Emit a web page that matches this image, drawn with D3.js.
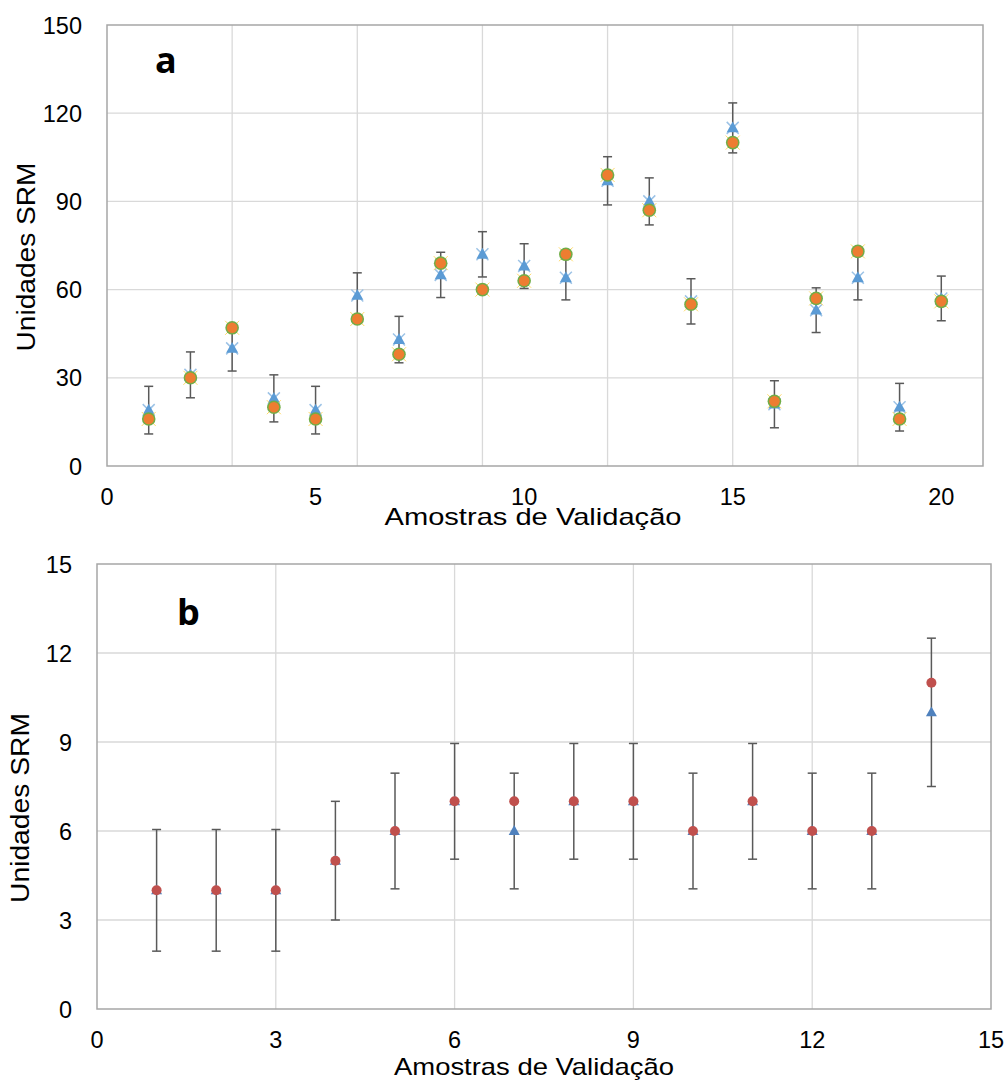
<!DOCTYPE html>
<html>
<head>
<meta charset="utf-8">
<script src="https://cdn.jsdelivr.net/npm/d3@7"></script>
<style>
  body { margin: 0; background: #fff; }
  text { font-family: "Liberation Sans", Arial, sans-serif; fill: #000; }
</style>
</head>
<body>
<svg id="chart" width="1008" height="1088"></svg>
<script>
// panel a data
const samplesA = d3.range(1, 21);
const triA = [19, 31, 40, 23, 19, 58, 43, 65, 72, 68, 64, 97, 90, 56, 115, 21, 53, 64, 20, 57];
const circA = [16, 30, 47, 20, 16, 50, 38, 69, 60, 63, 72, 99, 87, 55, 110, 22, 57, 73, 16, 56];
const errA = [8.1, 7.8, 7.7, 8, 8.1, 7.7, 7.9, 7.7, 7.7, 7.6, 7.5, 8.2, 8, 7.7, 8.5, 8, 7.6, 7.5, 8.1, 7.6];
const xTicksA = [0, 5, 10, 15, 20];
const xGridA = [3, 6, 9, 12, 15, 18];
const yTicksA = [0, 30, 60, 90, 120, 150];

// panel b data
const samplesB = d3.range(1, 15);
const triB = [4, 4, 4, 5, 6, 7, 6, 7, 7, 6, 7, 6, 6, 10];
const circB = [4, 4, 4, 5, 6, 7, 7, 7, 7, 6, 7, 6, 6, 11];
const errB = [2.05, 2.05, 2.05, 2, 1.95, 1.95, 1.95, 1.95, 1.95, 1.95, 1.95, 1.95, 1.95, 2.5];
const xTicksB = [0, 3, 6, 9, 12, 15];
const yTicksB = [0, 3, 6, 9, 12, 15];

const svg = d3.select("#chart");

function drawPanel(cfg) {
  const x = d3.scaleLinear().domain(cfg.xDomain).range([cfg.left, cfg.right]);
  const y = d3.scaleLinear().domain(cfg.yDomain).range([cfg.bottom, cfg.top]);
  const g = svg.append("g");

  // grid
  g.selectAll(".hgrid").data(cfg.yTicks.slice(1, -1)).join("line")
    .attr("x1", cfg.left).attr("x2", cfg.right)
    .attr("y1", d => y(d)).attr("y2", d => y(d))
    .attr("stroke", "#d9d9d9").attr("stroke-width", 1.3);
  g.selectAll(".vgrid").data(cfg.xGrid).join("line")
    .attr("x1", d => x(d)).attr("x2", d => x(d))
    .attr("y1", cfg.top).attr("y2", cfg.bottom)
    .attr("stroke", "#d9d9d9").attr("stroke-width", 1.3);

  // frame
  g.append("rect")
    .attr("x", cfg.left).attr("y", cfg.top)
    .attr("width", cfg.right - cfg.left).attr("height", cfg.bottom - cfg.top)
    .attr("fill", "none").attr("stroke", "#a6a6a6").attr("stroke-width", 1.5);

  // tick labels
  g.selectAll(".ylab").data(cfg.yTicks).join("text")
    .attr("x", cfg.left - 25).attr("y", d => y(d) + 8.5)
    .attr("text-anchor", "end").attr("font-size", 23.5)
    .text(d => d);
  g.selectAll(".xlab").data(cfg.xTicks).join("text")
    .attr("x", d => x(d)).attr("y", cfg.bottom + 39)
    .attr("text-anchor", "middle").attr("font-size", 23.5)
    .text(d => d);

  // axis titles (stretched like the original export)
  g.append("text")
    .attr("transform", `translate(${cfg.yTitleX},${cfg.yTitleY}) rotate(-90)`)
    .attr("text-anchor", "middle").attr("font-size", 25)
    .attr("textLength", cfg.yTitleLen).attr("lengthAdjust", "spacingAndGlyphs")
    .text("Unidades SRM");
  g.append("text")
    .attr("x", cfg.xTitleX).attr("y", cfg.xTitleY)
    .attr("text-anchor", "middle").attr("font-size", 24)
    .attr("textLength", cfg.xTitleLen).attr("lengthAdjust", "spacingAndGlyphs")
    .text("Amostras de Validação");

  // panel letter
  g.append("text")
    .attr("x", cfg.letterX).attr("y", cfg.letterY)
    .attr("font-weight", "bold").attr("font-size", 36)
    .style("font-family", "'Open Sans', sans-serif")
    .text(cfg.letter);

  // error bars
  const eb = g.selectAll(".eb").data(cfg.samples).join("g");
  eb.append("line")
    .attr("x1", (d) => x(d)).attr("x2", (d) => x(d))
    .attr("y1", (d, i) => y(cfg.tri[i] + cfg.err[i]))
    .attr("y2", (d, i) => y(cfg.tri[i] - cfg.err[i]))
    .attr("stroke", "#595959").attr("stroke-width", 1.5);
  [1, -1].forEach((s) => {
    eb.append("line")
      .attr("x1", (d) => x(d) - 4.5).attr("x2", (d) => x(d) + 4.5)
      .attr("y1", (d, i) => y(cfg.tri[i] + s * cfg.err[i]))
      .attr("y2", (d, i) => y(cfg.tri[i] + s * cfg.err[i]))
      .attr("stroke", "#595959").attr("stroke-width", 1.5);
  });

  return { g, x, y };
}

function triPath(cx, cy, s) {
  const h = s * 0.9;
  return `M${cx},${cy - h * 0.6}L${cx + s / 2},${cy + h * 0.4}L${cx - s / 2},${cy + h * 0.4}Z`;
}

// ---- panel a
const pa = drawPanel({
  left: 107, right: 983, top: 25, bottom: 466,
  xDomain: [0, 21], yDomain: [0, 150],
  xTicks: xTicksA, xGrid: xGridA, yTicks: yTicksA,
  samples: samplesA, tri: triA, err: errA,
  yTitleX: 35, yTitleY: 257, yTitleLen: 189,
  xTitleX: 533, xTitleY: 525, xTitleLen: 297,
  letter: "a", letterX: 155, letterY: 73
});

// light blue X
pa.g.selectAll(".xm").data(samplesA).join("path")
  .attr("d", (d, i) => {
    const cx = pa.x(d), cy = pa.y(triA[i]);
    return `M${cx - 6},${cy - 6}L${cx + 6},${cy + 6}M${cx - 6},${cy + 6}L${cx + 6},${cy - 6}`;
  })
  .attr("stroke", "#9dc3e6").attr("stroke-width", 1.5);
pa.g.selectAll(".tri").data(samplesA).join("path")
  .attr("d", (d, i) => triPath(pa.x(d), pa.y(triA[i]), 12))
  .attr("fill", "#5b9bd5");
// yellow small marks
pa.g.selectAll(".ym").data(samplesA).join("path")
  .attr("d", (d, i) => {
    const cx = pa.x(d), cy = pa.y(circA[i]);
    return `M${cx - 7},${cy - 7}L${cx + 7},${cy + 7}M${cx - 7},${cy + 7}L${cx + 7},${cy - 7}`;
  })
  .attr("stroke", "#ffd966").attr("stroke-width", 1);
pa.g.selectAll(".gc").data(samplesA).join("circle")
  .attr("cx", d => pa.x(d)).attr("cy", (d, i) => pa.y(circA[i]))
  .attr("r", 6.8).attr("fill", "#70ad47");
pa.g.selectAll(".oc").data(samplesA).join("circle")
  .attr("cx", d => pa.x(d)).attr("cy", (d, i) => pa.y(circA[i]))
  .attr("r", 5.3).attr("fill", "#ed7d31");

// ---- panel b
const pb = drawPanel({
  left: 97, right: 991, top: 564, bottom: 1009,
  xDomain: [0, 15], yDomain: [0, 15],
  xTicks: xTicksB, xGrid: [3, 6, 9, 12], yTicks: yTicksB,
  samples: samplesB, tri: triB, err: errB,
  yTitleX: 29, yTitleY: 808, yTitleLen: 190,
  xTitleX: 534, xTitleY: 1075, xTitleLen: 280,
  letter: "b", letterX: 177, letterY: 625
});

pb.g.selectAll(".tri").data(samplesB).join("path")
  .attr("d", (d, i) => triPath(pb.x(d), pb.y(triB[i]), 11))
  .attr("fill", "#4f81bd");
pb.g.selectAll(".rc").data(samplesB).join("circle")
  .attr("cx", d => pb.x(d)).attr("cy", (d, i) => pb.y(circB[i]))
  .attr("r", 5).attr("fill", "#c0504d");
</script>
</body>
</html>
